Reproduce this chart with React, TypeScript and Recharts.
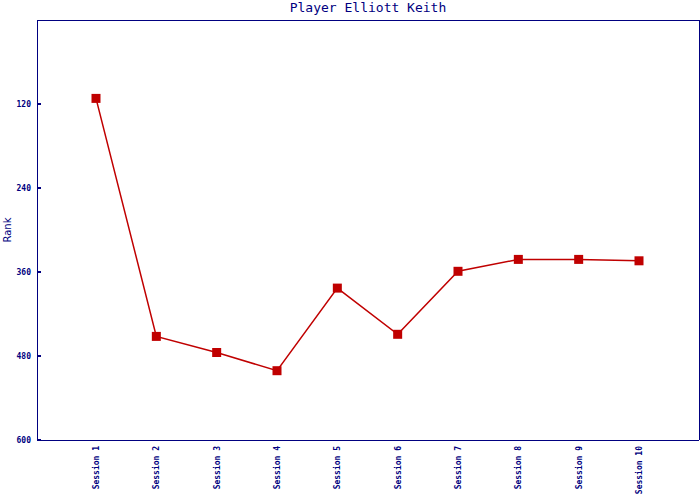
import { LineChart, Line, XAxis, YAxis } from 'recharts';

// Sesiones y ranking del jugador
const sessions = ['Session 1', 'Session 2', 'Session 3', 'Session 4', 'Session 5', 'Session 6', 'Session 7', 'Session 8', 'Session 9', 'Session 10'];
const ranks = [112, 452, 475, 501, 383, 449, 359, 342, 342, 344];
const rankTicks = [120, 240, 360, 480, 600];

const NAVY = '#000080';
const RED = '#c00000';
const MONO = "'DejaVu Sans Mono', monospace";

const data = sessions.map((s, i) => ({ session: s, rank: ranks[i] }));

const axisStyle = { stroke: NAVY, shapeRendering: 'crispEdges' } as any;

// Marcador cuadrado
const SquareDot = (props: any) => {
  const { cx, cy } = props;
  if (cx == null || cy == null) return null;
  return <rect x={cx - 4.5} y={cy - 4.5} width={9} height={9} fill={RED} />;
};

// Etiquetas verticales del eje X
const SessionTick = (props: any) => {
  const { x, y, payload } = props;
  return (
    <g transform={`translate(${x},${y})`}>
      <text transform="rotate(-90)" x={2} dy={3} textAnchor="end" fill={NAVY} fontSize={8} fontWeight="bold" fontFamily={MONO}>
        {payload.value}
      </text>
    </g>
  );
};

// Tick del eje Y con la marca hacia dentro
const RankTick = (props: any) => {
  const { x, y, payload } = props;
  return (
    <g>
      <line x1={x + 6} x2={x + 10} y1={y} y2={y} stroke={NAVY} strokeWidth={1.5} shapeRendering="crispEdges" />
      <text x={x} y={y} dy={3} textAnchor="end" fill={NAVY} fontSize={8} fontWeight="bold" fontFamily={MONO}>
        {payload.value}
      </text>
    </g>
  );
};

const RankLabel = (props: any) => {
  const vb = props.viewBox || {};
  const cy = vb.y != null ? vb.y + vb.height / 2 : 232;
  return (
    <text
      x={8}
      y={cy}
      dy={3}
      transform={`rotate(-90, 8, ${cy})`}
      textAnchor="middle"
      fill={NAVY}
      fontSize={10}
      fontFamily="'DejaVu Sans', sans-serif"
    >
      Rank
    </text>
  );
};

export default function App() {
  return (
    <div style={{ position: 'absolute', left: 0, top: 0, width: 700, height: 500, background: '#fff' }}>
      <div
        style={{
          position: 'absolute',
          left: 37,
          top: 0,
          width: 662,
          textAlign: 'center',
          fontFamily: MONO,
          fontSize: 13,
          lineHeight: '16px',
          color: NAVY,
        }}
      >
        Player Elliott Keith
      </div>
      <LineChart width={700} height={500} data={data} margin={{ top: 19, right: 0, left: 0, bottom: 0 }}>
        <XAxis
          dataKey="session"
          height={60}
          padding={{ left: 59, right: 60 }}
          axisLine={axisStyle}
          tickLine={false}
          tick={<SessionTick />}
          interval={0}
        />
        <XAxis xAxisId="top" dataKey="session" orientation="top" height={1} tick={false} tickLine={false} axisLine={axisStyle} />
        <YAxis
          width={37}
          domain={[0, 600]}
          reversed
          ticks={rankTicks}
          interval={0}
          axisLine={axisStyle}
          tickLine={false}
          tickSize={0}
          tickMargin={6}
          tick={<RankTick />}
          label={<RankLabel />}
        />
        <YAxis yAxisId="right" orientation="right" width={1} domain={[0, 600]} reversed tick={false} tickLine={false} axisLine={axisStyle} />
        <Line
          dataKey="rank"
          stroke={RED}
          strokeWidth={1.5}
          dot={<SquareDot />}
          activeDot={false}
          isAnimationActive={false}
        />
      </LineChart>
    </div>
  );
}
